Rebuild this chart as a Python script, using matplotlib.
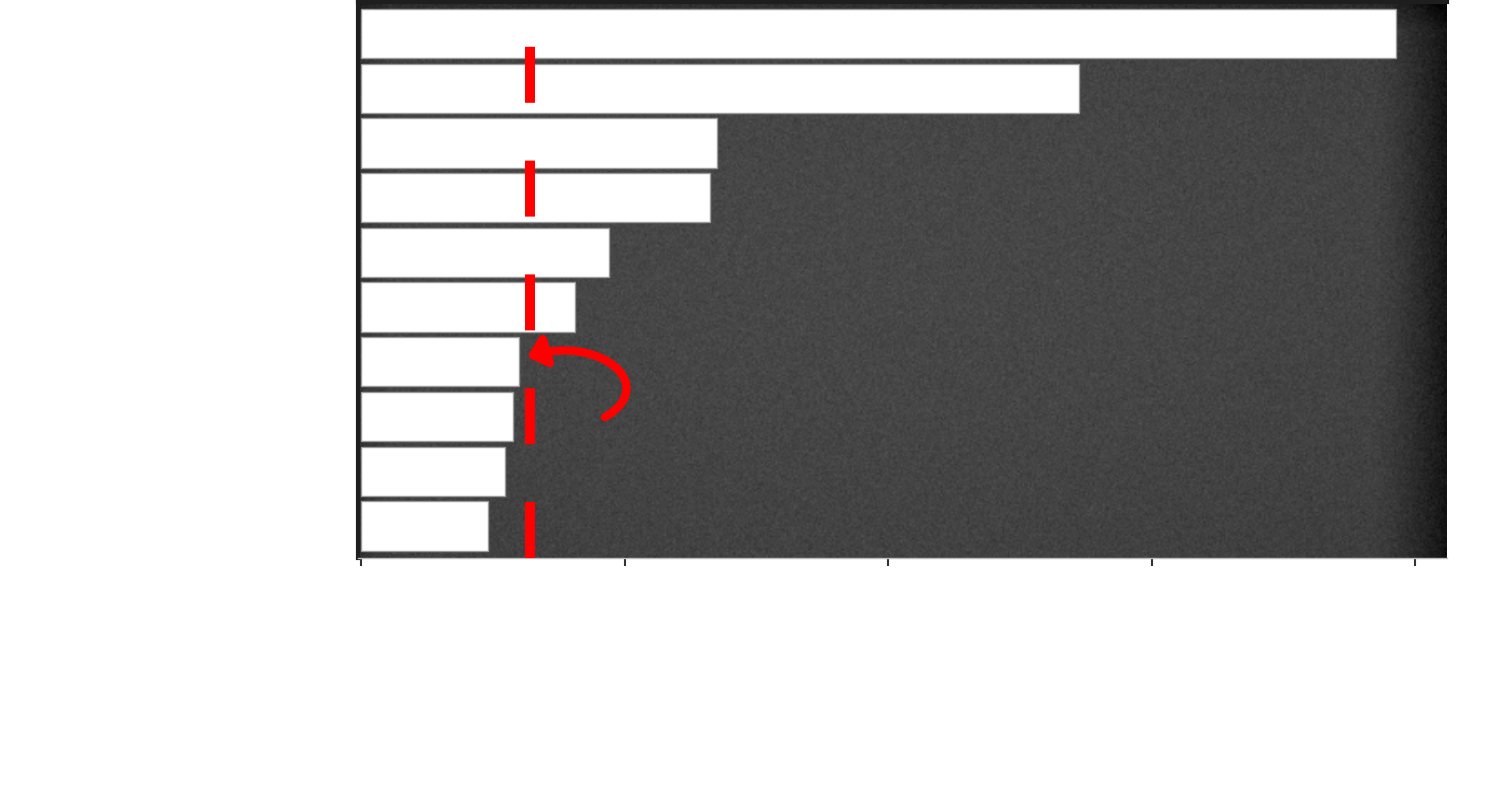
import numpy as np
import matplotlib
matplotlib.use("Agg")
import matplotlib.pyplot as plt
from matplotlib.patches import FancyArrowPatch
from matplotlib.path import Path

# bar lengths, top to bottom
categories = ["A", "B", "C", "D", "E", "F", "G", "H", "I", "J"]
values = [78.5, 54.5, 27.0, 26.5, 18.8, 16.2, 12.0, 11.5, 10.9, 9.6]
x_ticks = [0, 20, 40, 60, 80]
ref_value = 12.8
# curved arrow (bezier control points, data coords)
arrow_pts = [(18.5, 7.01), (22.7, 6.42), (18.1, 5.51), (12.6, 5.91)]

fig = plt.figure(figsize=(15, 8), dpi=100)
ax = fig.add_axes([0.2387, 0.3025, 0.726, 0.695])

# chalkboard-ish background
h, w = 300, 600
xx, yy = np.meshgrid(np.linspace(0, 1, w), np.linspace(0, 1, h))
base = 0.28 - 0.07 * ((xx - 0.45) ** 2 + (yy - 0.45) ** 2)
base -= 0.17 * np.clip((xx - 0.93) / 0.07, 0, 1) ** 1.5
base -= 0.08 * np.clip((0.05 - yy) / 0.05, 0, 1)
base -= 0.06 * np.clip((0.03 - xx) / 0.03, 0, 1)
rng = np.random.default_rng(3)
base += rng.normal(0, 0.018, base.shape)
img = np.clip(base, 0, 1)
ax.imshow(img, cmap="gray", vmin=0, vmax=1, extent=[0, 1, 0, 1],
          transform=ax.transAxes, aspect="auto", zorder=0, interpolation="bilinear")

y = np.arange(len(categories))
ax.barh(y, values, height=0.9, color="white", edgecolor="#9a9a9a", linewidth=1, zorder=2)

ax.axvline(ref_value, color="#ff0000", linewidth=7.2, dashes=(5.6, 5.78),
           solid_capstyle="butt", dash_capstyle="butt", zorder=3)

arc = Path(arrow_pts, [Path.MOVETO, Path.CURVE4, Path.CURVE4, Path.CURVE4])
arrow = FancyArrowPatch(path=arc, arrowstyle="-|>,head_length=0.5,head_width=0.45",
                        mutation_scale=20, color="#ff0000", linewidth=6, zorder=4)
ax.add_patch(arrow)

ax.set_ylim(9.585, -0.576)
ax.set_xlim(-0.23, 82.4)
ax.set_xticks(x_ticks)
ax.set_xticklabels([])
ax.set_yticks([])
ax.tick_params(axis="x", length=6, width=1.5, color="#333333")
for side in ["left", "top"]:
    ax.spines[side].set_color("#1e1e1e")
    ax.spines[side].set_linewidth(3)
ax.spines["bottom"].set_color("#bbbbbb")
ax.spines["bottom"].set_linewidth(1)
ax.spines["right"].set_visible(False)

fig.savefig("out.png", dpi=100, facecolor="white")
